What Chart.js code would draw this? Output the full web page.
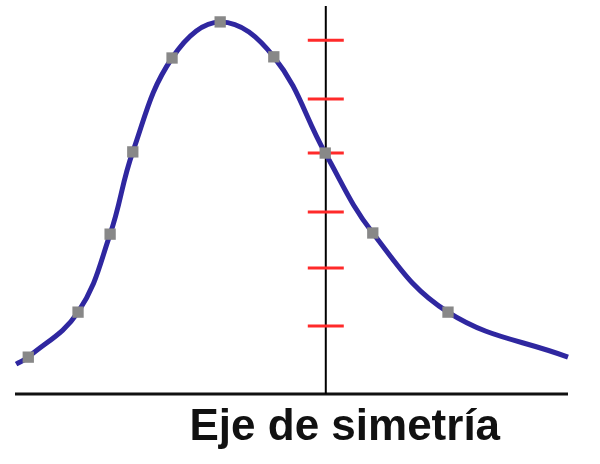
<!DOCTYPE html>
<html lang="es">
<head>
    <meta charset="UTF-8">
    <title>Eje de simetría</title>
    <script src="https://cdn.jsdelivr.net/npm/chart.js"></script>
    <style>
        body { margin: 0; background: #fff; }
    </style>
</head>
<body>
    <canvas id="curveChart" width="600" height="464"></canvas>

    <script>
        // curve points (x, y); first and last are the bare ends of the line
        const curveX = [0.2, 2.4, 11.4, 17.2, 21.3, 28.4, 37.1, 46.8, 56.1, 64.7, 78.3, 100];
        const curveY = [7.7, 9.5, 21.1, 41.2, 62.4, 86.6, 95.9, 86.9, 62.1, 41.5, 21.1, 9.5];
        const hasMarker = [false, true, true, true, true, true, true, true, true, true, true, false];

        // symmetry axis and its red marks
        const axisX = 56.2;
        const axisTop = 100;
        const markY = [91.2, 76.0, 62.1, 46.9, 32.5, 17.5];

        // base line
        const baseX = [0, 100];
        const label = 'Eje de simetría';

        const labelPlugin = {
            id: 'axisLabel',
            afterDraw(chart) {
                const ctx = chart.ctx;
                const area = chart.chartArea;
                ctx.save();
                ctx.font = 'bold 44px "Liberation Sans", Arial, sans-serif';
                ctx.fillStyle = '#111';
                ctx.textAlign = 'center';
                ctx.textBaseline = 'alphabetic';
                ctx.fillText(label, chart.scales.x.getPixelForValue(axisX) + 19, area.bottom + 46);
                ctx.restore();
            }
        };

        const ctx = document.getElementById('curveChart').getContext('2d');
        new Chart(ctx, {
            type: 'scatter',
            data: {
                datasets: [
                    {
                        // the curve, drawn on top
                        data: curveX.map((x, i) => ({ x: x, y: curveY[i] })),
                        showLine: true,
                        tension: 0.4,
                        borderColor: '#2f27a0',
                        borderWidth: 5,
                        pointStyle: 'rect',
                        pointRadius: hasMarker.map(m => m ? 8 : 0),
                        pointBackgroundColor: '#888888',
                        pointBorderWidth: 0,
                        clip: false
                    },
                    {
                        data: markY.map(y => ({ x: axisX, y: y })),
                        showLine: false,
                        pointStyle: 'line',
                        pointRadius: 18,
                        pointBorderWidth: 3,
                        pointBorderColor: '#ff2a2a',
                        clip: false
                    },
                    {
                        data: [{ x: axisX, y: 0 }, { x: axisX, y: axisTop }],
                        showLine: true,
                        borderColor: '#000',
                        borderWidth: 2,
                        pointRadius: 0,
                        clip: false
                    },
                    {
                        data: baseX.map(x => ({ x: x, y: 0 })),
                        showLine: true,
                        borderColor: '#111',
                        borderWidth: 3,
                        pointRadius: 0,
                        clip: false
                    }
                ]
            },
            options: {
                responsive: false,
                animation: false,
                layout: { autoPadding: false, padding: { left: 15, right: 32, top: 6, bottom: 70 } },
                scales: {
                    x: { type: 'linear', min: 0, max: 100, display: false },
                    y: { type: 'linear', min: 0, max: 100, display: false }
                },
                plugins: {
                    legend: { display: false },
                    tooltip: { enabled: false }
                }
            },
            plugins: [labelPlugin]
        });
    </script>
</body>
</html>
